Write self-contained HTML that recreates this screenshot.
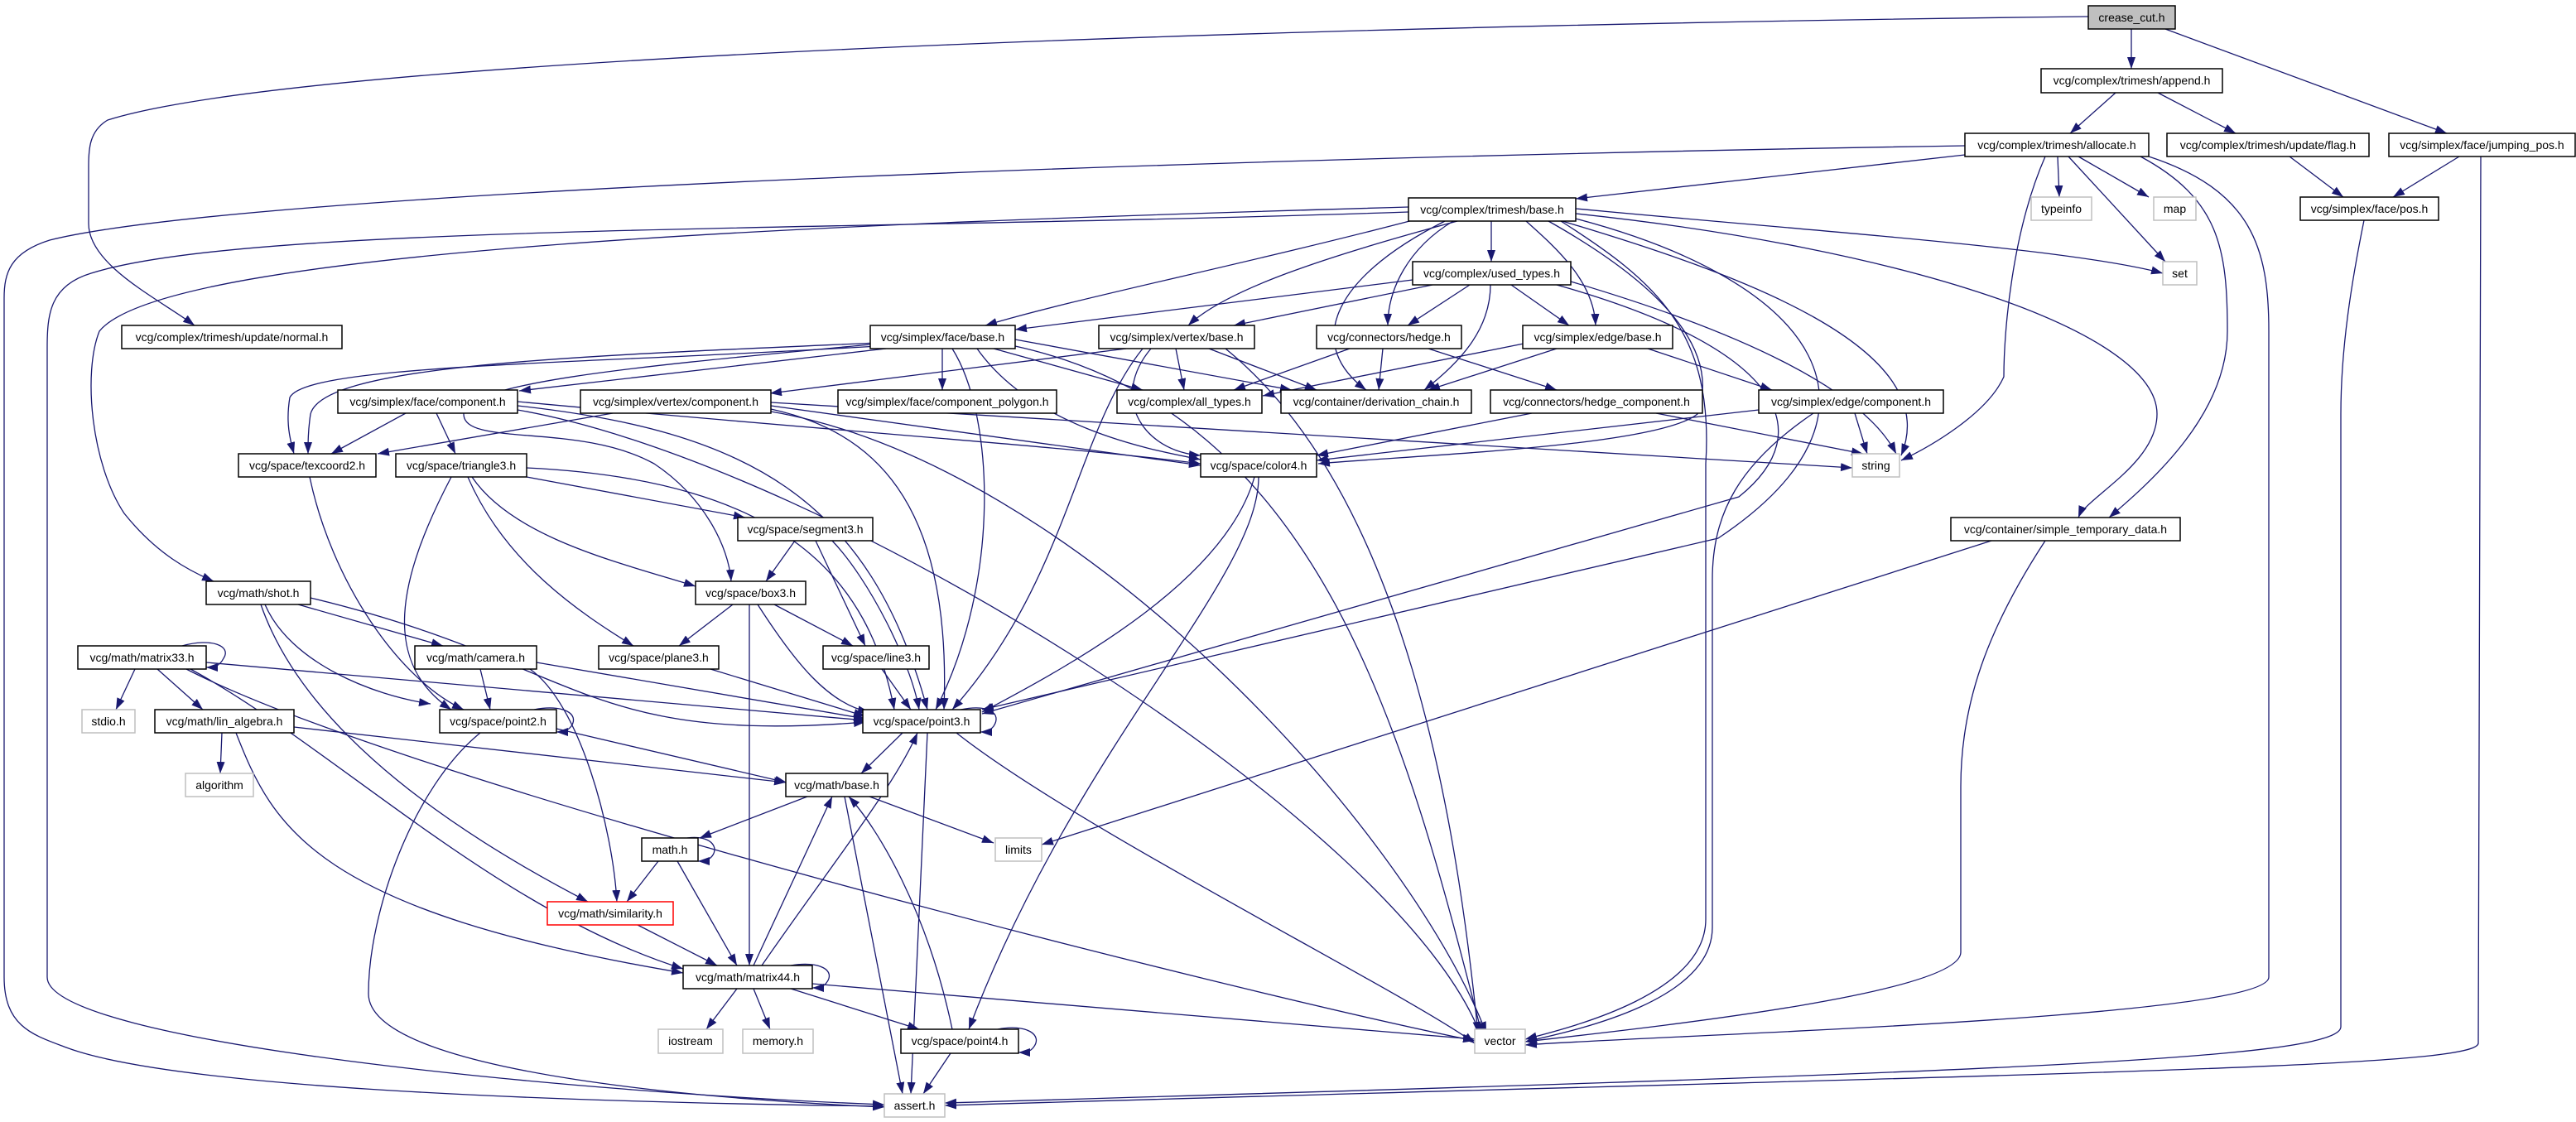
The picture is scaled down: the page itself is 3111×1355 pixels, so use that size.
<!DOCTYPE html>
<html><head><meta charset="utf-8"><style>
html,body{margin:0;padding:0;background:#fff;}
svg{display:block;}
text{font-family:"Liberation Sans",sans-serif;font-size:14px;fill:#000;}
</style></head><body>
<svg width="3111" height="1355" viewBox="0 0 3111 1355" xmlns="http://www.w3.org/2000/svg">
<defs>
<marker id="a" markerUnits="userSpaceOnUse" markerWidth="15" markerHeight="11" refX="14" refY="5" orient="auto">
<path d="M0,0 L14,5 L0,10 z" fill="#191970"/>
</marker>
</defs>
<g fill="none" stroke="#191970" stroke-width="1.3" marker-end="url(#a)">
<path d="M2574,35 L2574,83"/>
<path d="M2615,35 L2955,161"/>
<path d="M2522,20 C1800,28 400,60 130,145 C108,158 107,180 107,200 L107,270 C107,320 190,360 235,393"/>
<path d="M2555,112 L2500,161"/>
<path d="M2606,112 L2700,161"/>
<path d="M2765,189 L2830,238"/>
<path d="M2970,189 L2890,238"/>
<path d="M2996,189 L2993,1260 C2990,1290 2500,1295 1141,1335"/>
<path d="M2855,266 C2840,340 2827,420 2827,500 L2827,1240 C2827,1280 2400,1295 1141,1332"/>
<path d="M2485,189 L2487,238"/>
<path d="M2510,189 L2595,238"/>
<path d="M2498,189 L2615,316"/>
<path d="M2373,187 L1903,240"/>
<path d="M2373,176 C1500,190 300,230 60,290 C12,305 5,330 5,360 L5,1180 C5,1240 40,1250 80,1265 C200,1310 600,1330 1068,1336"/>
<path d="M2470,189 C2430,280 2420,400 2420,455 C2400,500 2330,540 2296,556"/>
<path d="M2585,189 C2680,240 2690,300 2690,400 C2690,500 2600,580 2547,625"/>
<path d="M2595,189 C2720,230 2740,300 2740,400 L2740,1180 C2740,1230 2000,1250 1842,1262"/>
<path d="M1801,267 L1801,316"/>
<path d="M1710,265 C1500,320 1300,360 1190,393"/>
<path d="M1760,267 C1600,310 1480,350 1435,393"/>
<path d="M1755,267 C1700,300 1676,350 1676,393"/>
<path d="M1843,267 C1880,300 1925,340 1927,393"/>
<path d="M1745,267 C1600,340 1580,420 1650,471"/>
<path d="M1870,267 C2000,340 2080,420 2050,500 C2000,540 1700,550 1592,560"/>
<path d="M1880,265 C2100,330 2350,420 2296,550"/>
<path d="M1903,252 C2200,280 2500,300 2612,330"/>
<path d="M1895,262 C2200,340 2300,500 2075,650 L1186,857"/>
<path d="M1903,258 C2300,300 2605,400 2605,500 C2605,560 2520,600 2510,625"/>
<path d="M1885,267 C2000,340 2070,400 2060,560 L2060,1110 C2060,1200 1900,1240 1842,1255"/>
<path d="M1701,250 C1000,270 200,300 120,400 C100,450 110,560 150,620 C190,670 230,690 258,702"/>
<path d="M1701,256 C1000,280 300,270 110,330 C60,345 57,380 57,420 L57,1180 C57,1260 700,1320 1068,1334"/>
<path d="M1706,338 L1226,398"/>
<path d="M1730,344 L1490,393"/>
<path d="M1775,344 L1700,393"/>
<path d="M1825,344 L1895,393"/>
<path d="M1800,344 C1800,400 1760,440 1720,471"/>
<path d="M1897,340 C2100,400 2250,470 2290,548"/>
<path d="M1880,344 C2150,420 2200,520 2100,600 L1186,862"/>
<path d="M1070,421 L627,472"/>
<path d="M1138,421 L1138,471"/>
<path d="M1200,421 L1380,471"/>
<path d="M1226,410 L1560,471"/>
<path d="M1180,421 C1250,520 1400,545 1450,555"/>
<path d="M1060,418 C700,440 370,440 350,480 C345,510 350,530 355,548"/>
<path d="M1060,414 C700,430 390,440 375,500 C372,520 372,535 372,548"/>
<path d="M1150,421 C1200,500 1210,700 1130,857"/>
<path d="M1051,416 C800,440 560,460 560,500 C560,540 700,510 790,560 C850,600 880,660 883,702"/>
<path d="M1226,418 C1600,500 1700,900 1790,1250"/>
<path d="M1420,421 L1430,471"/>
<path d="M1460,421 L1590,471"/>
<path d="M1360,421 L930,475"/>
<path d="M1390,421 C1340,480 1380,545 1450,550"/>
<path d="M1380,421 C1300,520 1290,700 1150,857"/>
<path d="M1480,421 C1700,600 1760,1000 1785,1248"/>
<path d="M1630,421 L1490,471"/>
<path d="M1670,421 L1665,471"/>
<path d="M1725,421 L1880,471"/>
<path d="M1840,415 L1525,478"/>
<path d="M1880,421 L1725,471"/>
<path d="M1990,421 L2140,471"/>
<path d="M490,499 L400,548"/>
<path d="M527,499 L550,548"/>
<path d="M625,485 C1000,520 1300,540 1450,560"/>
<path d="M625,490 C900,520 1050,600 1120,857"/>
<path d="M625,495 C1000,560 1700,1000 1790,1255"/>
<path d="M740,499 L456,548"/>
<path d="M931,490 L1450,562"/>
<path d="M931,494 C1050,520 1150,600 1140,857"/>
<path d="M931,497 C1300,560 1700,1000 1795,1248"/>
<path d="M931,486 L2237,565"/>
<path d="M1850,499 L1590,550"/>
<path d="M2000,499 L2250,548"/>
<path d="M2124,495 L1590,556"/>
<path d="M2240,499 L2255,548"/>
<path d="M2190,499 C2100,560 2068,620 2068,700 L2068,1120 C2068,1210 1900,1245 1842,1258"/>
<path d="M374,576 C400,700 480,820 560,857"/>
<path d="M636,576 L900,625"/>
<path d="M570,576 C620,650 750,680 840,708"/>
<path d="M565,576 C610,680 700,740 765,780"/>
<path d="M545,576 C480,700 460,800 545,857"/>
<path d="M636,565 C950,580 1050,700 1080,857"/>
<path d="M960,653 L925,702"/>
<path d="M985,653 L1045,780"/>
<path d="M1005,653 C1050,700 1100,800 1110,857"/>
<path d="M360,730 L535,780"/>
<path d="M320,730 C350,800 450,840 520,850"/>
<path d="M375,722 C700,800 700,900 1045,872"/>
<path d="M315,730 C360,860 500,980 710,1089"/>
<path d="M885,730 L820,780"/>
<path d="M935,730 L1030,780"/>
<path d="M915,730 C960,800 1000,850 1050,860"/>
<path d="M905,730 L905,1166"/>
<path d="M163,808 L140,857"/>
<path d="M190,808 L245,857"/>
<path d="M249,800 L1045,870"/>
<path d="M225,808 C500,950 1500,1200 1781,1257"/>
<path d="M230,808 C400,900 600,1100 825,1170"/>
<path d="M580,808 L592,857"/>
<path d="M648,800 L1045,868"/>
<path d="M640,808 C700,850 740,1000 745,1089"/>
<path d="M858,808 L1045,865"/>
<path d="M1065,808 L1100,857"/>
<path d="M672,880 L950,945"/>
<path d="M580,885 C500,950 445,1100 445,1200 C445,1300 900,1330 1068,1337"/>
<path d="M268,885 L266,934"/>
<path d="M355,878 L949,945"/>
<path d="M285,885 C330,1000 380,1100 825,1175"/>
<path d="M1090,885 L1040,934"/>
<path d="M1120,885 L1100,1321"/>
<path d="M1155,885 C1300,1000 1700,1200 1781,1260"/>
<path d="M1050,962 L1200,1018"/>
<path d="M975,962 L845,1012"/>
<path d="M1020,962 L1090,1321"/>
<path d="M1515,576 C1480,700 1300,800 1186,860"/>
<path d="M1520,576 C1520,700 1300,900 1170,1243"/>
<path d="M2405,653 L1258,1020"/>
<path d="M2470,653 C2400,760 2368,850 2368,950 L2368,1150 C2368,1200 2000,1240 1842,1258"/>
<path d="M795,1040 L757,1089"/>
<path d="M818,1040 L890,1166"/>
<path d="M770,1117 L866,1166"/>
<path d="M910,1166 L1005,962"/>
<path d="M920,1166 C1000,1050 1080,950 1108,885"/>
<path d="M890,1194 L853,1243"/>
<path d="M910,1194 L930,1243"/>
<path d="M955,1194 L1110,1243"/>
<path d="M981,1188 L1781,1255"/>
<path d="M1148,1272 L1115,1321"/>
<path d="M1150,1243 C1120,1100 1060,1000 1025,962"/>
<path d="M220,780 C255,770 280,780 270,795 C265,805 258,806 249,806"/>
<path d="M645,857 C680,850 700,862 690,877 C685,883 680,884 672,884"/>
<path d="M1160,857 C1195,850 1210,862 1200,877 C1195,883 1192,884 1184,884"/>
<path d="M830,1012 C860,1008 870,1025 858,1036 C854,1039 850,1040 843,1040"/>
<path d="M955,1166 C990,1160 1010,1172 998,1187 C994,1192 990,1193 981,1193"/>
<path d="M1205,1243 C1240,1236 1260,1250 1248,1265 C1244,1270 1240,1271 1230,1271"/>
</g>
<g stroke-width="1.5">
<rect x="2522" y="7" width="105" height="28" fill="#bfbfbf" stroke="#000"/>
<rect x="2465" y="83" width="219" height="29" fill="#fff" stroke="#000"/>
<rect x="2373" y="161" width="222" height="28" fill="#fff" stroke="#000"/>
<rect x="2617" y="161" width="244" height="28" fill="#fff" stroke="#000"/>
<rect x="2885" y="161" width="225" height="28" fill="#fff" stroke="#000"/>
<rect x="2453" y="238" width="73" height="28" fill="#fff" stroke="#bfbfbf"/>
<rect x="2601" y="238" width="51" height="28" fill="#fff" stroke="#bfbfbf"/>
<rect x="2778" y="238" width="167" height="28" fill="#fff" stroke="#000"/>
<rect x="1701" y="239" width="202" height="28" fill="#fff" stroke="#000"/>
<rect x="2612" y="316" width="41" height="28" fill="#fff" stroke="#bfbfbf"/>
<rect x="1706" y="316" width="191" height="28" fill="#fff" stroke="#000"/>
<rect x="147" y="393" width="266" height="28" fill="#fff" stroke="#000"/>
<rect x="1051" y="393" width="175" height="28" fill="#fff" stroke="#000"/>
<rect x="1327" y="393" width="188" height="28" fill="#fff" stroke="#000"/>
<rect x="1590" y="393" width="175" height="28" fill="#fff" stroke="#000"/>
<rect x="1839" y="393" width="181" height="28" fill="#fff" stroke="#000"/>
<rect x="408" y="471" width="217" height="28" fill="#fff" stroke="#000"/>
<rect x="701" y="471" width="230" height="28" fill="#fff" stroke="#000"/>
<rect x="1012" y="471" width="264" height="28" fill="#fff" stroke="#000"/>
<rect x="1349" y="471" width="175" height="28" fill="#fff" stroke="#000"/>
<rect x="1547" y="471" width="230" height="28" fill="#fff" stroke="#000"/>
<rect x="1800" y="471" width="256" height="28" fill="#fff" stroke="#000"/>
<rect x="2124" y="471" width="223" height="28" fill="#fff" stroke="#000"/>
<rect x="288" y="548" width="166" height="28" fill="#fff" stroke="#000"/>
<rect x="478" y="548" width="158" height="28" fill="#fff" stroke="#000"/>
<rect x="1450" y="548" width="140" height="28" fill="#fff" stroke="#000"/>
<rect x="2237" y="548" width="57" height="28" fill="#fff" stroke="#bfbfbf"/>
<rect x="891" y="625" width="163" height="28" fill="#fff" stroke="#000"/>
<rect x="2356" y="625" width="277" height="28" fill="#fff" stroke="#000"/>
<rect x="249" y="702" width="126" height="28" fill="#fff" stroke="#000"/>
<rect x="840" y="702" width="133" height="28" fill="#fff" stroke="#000"/>
<rect x="94" y="780" width="155" height="28" fill="#fff" stroke="#000"/>
<rect x="501" y="780" width="147" height="28" fill="#fff" stroke="#000"/>
<rect x="723" y="780" width="145" height="28" fill="#fff" stroke="#000"/>
<rect x="994" y="780" width="128" height="28" fill="#fff" stroke="#000"/>
<rect x="1042" y="857" width="142" height="28" fill="#fff" stroke="#000"/>
<rect x="99" y="857" width="64" height="28" fill="#fff" stroke="#bfbfbf"/>
<rect x="187" y="857" width="168" height="28" fill="#fff" stroke="#000"/>
<rect x="531" y="857" width="141" height="28" fill="#fff" stroke="#000"/>
<rect x="224" y="934" width="82" height="28" fill="#fff" stroke="#bfbfbf"/>
<rect x="949" y="934" width="123" height="28" fill="#fff" stroke="#000"/>
<rect x="1202" y="1012" width="56" height="28" fill="#fff" stroke="#bfbfbf"/>
<rect x="775" y="1012" width="68" height="28" fill="#fff" stroke="#000"/>
<rect x="661" y="1089" width="152" height="28" fill="#fff" stroke="#ff0000"/>
<rect x="825" y="1166" width="156" height="28" fill="#fff" stroke="#000"/>
<rect x="795" y="1243" width="78" height="29" fill="#fff" stroke="#bfbfbf"/>
<rect x="897" y="1243" width="85" height="29" fill="#fff" stroke="#bfbfbf"/>
<rect x="1088" y="1243" width="142" height="29" fill="#fff" stroke="#000"/>
<rect x="1781" y="1243" width="61" height="29" fill="#fff" stroke="#bfbfbf"/>
<rect x="1068" y="1321" width="73" height="28" fill="#fff" stroke="#bfbfbf"/>
</g>
<g text-anchor="middle">
<text x="2574.5" y="26">crease_cut.h</text>
<text x="2574.5" y="102">vcg/complex/trimesh/append.h</text>
<text x="2484" y="180">vcg/complex/trimesh/allocate.h</text>
<text x="2739" y="180">vcg/complex/trimesh/update/flag.h</text>
<text x="2997.5" y="180">vcg/simplex/face/jumping_pos.h</text>
<text x="2489.5" y="257">typeinfo</text>
<text x="2626.5" y="257">map</text>
<text x="2861.5" y="257">vcg/simplex/face/pos.h</text>
<text x="1802" y="258">vcg/complex/trimesh/base.h</text>
<text x="2632.5" y="335">set</text>
<text x="1801.5" y="335">vcg/complex/used_types.h</text>
<text x="280" y="412">vcg/complex/trimesh/update/normal.h</text>
<text x="1138.5" y="412">vcg/simplex/face/base.h</text>
<text x="1421" y="412">vcg/simplex/vertex/base.h</text>
<text x="1677.5" y="412">vcg/connectors/hedge.h</text>
<text x="1929.5" y="412">vcg/simplex/edge/base.h</text>
<text x="516.5" y="490">vcg/simplex/face/component.h</text>
<text x="816" y="490">vcg/simplex/vertex/component.h</text>
<text x="1144" y="490">vcg/simplex/face/component_polygon.h</text>
<text x="1436.5" y="490">vcg/complex/all_types.h</text>
<text x="1662" y="490">vcg/container/derivation_chain.h</text>
<text x="1928" y="490">vcg/connectors/hedge_component.h</text>
<text x="2235.5" y="490">vcg/simplex/edge/component.h</text>
<text x="371" y="567">vcg/space/texcoord2.h</text>
<text x="557" y="567">vcg/space/triangle3.h</text>
<text x="1520" y="567">vcg/space/color4.h</text>
<text x="2265.5" y="567">string</text>
<text x="972.5" y="644">vcg/space/segment3.h</text>
<text x="2494.5" y="644">vcg/container/simple_temporary_data.h</text>
<text x="312" y="721">vcg/math/shot.h</text>
<text x="906.5" y="721">vcg/space/box3.h</text>
<text x="171.5" y="799">vcg/math/matrix33.h</text>
<text x="574.5" y="799">vcg/math/camera.h</text>
<text x="795.5" y="799">vcg/space/plane3.h</text>
<text x="1058" y="799">vcg/space/line3.h</text>
<text x="1113" y="876">vcg/space/point3.h</text>
<text x="131" y="876">stdio.h</text>
<text x="271" y="876">vcg/math/lin_algebra.h</text>
<text x="601.5" y="876">vcg/space/point2.h</text>
<text x="265" y="953">algorithm</text>
<text x="1010.5" y="953">vcg/math/base.h</text>
<text x="1230" y="1031">limits</text>
<text x="809" y="1031">math.h</text>
<text x="737" y="1108">vcg/math/similarity.h</text>
<text x="903" y="1185">vcg/math/matrix44.h</text>
<text x="834" y="1262">iostream</text>
<text x="939.5" y="1262">memory.h</text>
<text x="1159" y="1262">vcg/space/point4.h</text>
<text x="1811.5" y="1262">vector</text>
<text x="1104.5" y="1340">assert.h</text>
</g>
</svg>
</body></html>
